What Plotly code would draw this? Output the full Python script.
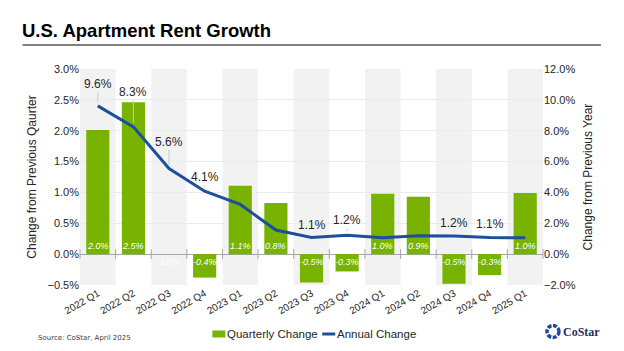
import plotly.graph_objects as go

# ---------------- data ----------------
categories = ["2022 Q1", "2022 Q2", "2022 Q3", "2022 Q4",
              "2023 Q1", "2023 Q2", "2023 Q3", "2023 Q4",
              "2024 Q1", "2024 Q2", "2024 Q3", "2024 Q4", "2025 Q1"]
quarterly_change = [2.01, 2.46, 0.0, -0.38, 1.11, 0.83, -0.46, -0.28,
                    0.98, 0.93, -0.48, -0.34, 0.99]
quarterly_labels = ["2.0%", "2.5%", "0.0%", "-0.4%", "1.1%", "0.8%", "-0.5%", "-0.3%",
                    "1.0%", "0.9%", "-0.5%", "-0.3%", "1.0%"]
annual_change = [9.61, 8.25, 5.55, 4.08, 3.22, 1.56, 1.08, 1.23,
                 1.07, 1.19, 1.17, 1.08, 1.06]
annual_labels = ["9.6%", "8.3%", "5.6%", "4.1%", "", "", "1.1%", "1.2%",
                 "", "", "1.2%", "1.1%", ""]
series_names = ["Quarterly Change", "Annual Change"]
# style: vertical offset (px) of each annual label from its point
annual_label_offsets = [-22, -35, -27, -14, 0, 0, -12, -15, 0, 0, -13, -13, 0]

# ---------------- styling ----------------
W, H = 624, 351
L, R, T, B = 79.5, 543, 69, 285
GREEN = "#77B300"
BLUE = "#1D4F9B"
BAND = "#F2F2F2"
TXT = "#262626"
FONT = "Liberation Sans, Arial, sans-serif"

def px_x(px):
    return (px - L) / (R - L)

def px_y(py):
    return (B - py) / (B - T)

x_idx = list(range(len(categories)))

fig = go.Figure()

fig.add_trace(go.Bar(
    x=x_idx, y=quarterly_change, name=series_names[0],
    marker=dict(color=GREEN, line=dict(width=0)), width=0.65,
    hoverinfo="skip", yaxis="y", showlegend=False,
))

fig.add_trace(go.Scatter(
    x=x_idx, y=annual_change, name=series_names[1], mode="lines",
    line=dict(color=BLUE, width=3), yaxis="y2", hoverinfo="skip", showlegend=False,
))

# boundary tick marks along the zero line
fig.add_trace(go.Scatter(
    x=[i - 0.5 for i in range(len(categories) + 1)],
    y=[0] * (len(categories) + 1), mode="markers", yaxis="y",
    marker=dict(symbol="line-ns-open", size=7, color="#A6A6A6",
                line=dict(color="#A6A6A6", width=1)),
    showlegend=False, hoverinfo="skip", cliponaxis=False,
))

shapes = []
for i in x_idx:
    if i % 2 == 0:
        shapes.append(dict(type="rect", xref="x", yref="paper", x0=i - 0.5, x1=i + 0.5,
                           y0=0, y1=1, fillcolor=BAND, line=dict(width=0), layer="below"))
# title underline
shapes.append(dict(type="line", xref="paper", yref="paper",
                   x0=px_x(22), x1=px_x(601), y0=px_y(45), y1=px_y(45),
                   line=dict(color="#808080", width=2)))
# logo ring
shapes.append(dict(type="circle", xref="paper", yref="paper",
                   x0=px_x(547), x1=px_x(559), y0=px_y(337.5), y1=px_y(325.5),
                   line=dict(color="#1F4A9A", width=3.5, dash="4px,1.5px")))
# legend keys
shapes.append(dict(type="rect", xref="paper", yref="paper",
                   x0=px_x(212), x1=px_x(225), y0=px_y(337.5), y1=px_y(330.5),
                   fillcolor=GREEN, line=dict(width=0)))
shapes.append(dict(type="line", xref="paper", yref="paper",
                   x0=px_x(322), x1=px_x(335), y0=px_y(334), y1=px_y(334),
                   line=dict(color=BLUE, width=3)))

annotations = []
for i, (v, lab) in enumerate(zip(quarterly_change, quarterly_labels)):
    annotations.append(dict(x=i, y=0, xref="x", yref="y", text="<i>" + lab + "</i>",
                            showarrow=False, yshift=8 if v > 0 else -8, yanchor="middle",
                            font=dict(family=FONT, size=9, color="white")))
for i, (v, lab, off) in enumerate(zip(annual_change, annual_labels, annual_label_offsets)):
    if lab:
        annotations.append(dict(x=i, y=v, xref="x", yref="y2", text=lab, showarrow=True,
                                arrowhead=0, arrowwidth=1, arrowcolor="#C8C8C8",
                                ax=0, ay=off, standoff=4,
                                font=dict(family=FONT, size=12, color=TXT)))
# legend texts
annotations.append(dict(x=px_x(225), y=px_y(333.5), xref="paper", yref="paper",
                        text=series_names[0], showarrow=False, xanchor="left", yanchor="middle",
                        font=dict(family=FONT, size=11.5, color=TXT)))
annotations.append(dict(x=px_x(335), y=px_y(333.5), xref="paper", yref="paper",
                        text=series_names[1], showarrow=False, xanchor="left", yanchor="middle",
                        font=dict(family=FONT, size=11.5, color=TXT)))
annotations.append(dict(x=px_x(35), y=px_y(338), xref="paper", yref="paper",
                        text="Source: CoStar, April 2025", showarrow=False,
                        xanchor="left", yanchor="middle",
                        font=dict(family="DejaVu Sans, sans-serif", size=7, color="#404040")))
annotations.append(dict(x=px_x(561), y=px_y(332), xref="paper", yref="paper",
                        text="<b>CoStar</b>", showarrow=False,
                        xanchor="left", yanchor="middle",
                        font=dict(family="Liberation Serif, serif", size=12, color="#1E2F5E")))

fig.update_layout(
    width=W, height=H,
    margin=dict(l=L, r=W - R, t=T, b=H - B, autoexpand=False),
    paper_bgcolor="white", plot_bgcolor="white",
    font=dict(family=FONT, color=TXT, size=11),
    title=dict(text="<b>U.S. Apartment Rent Growth</b>", x=22 / W, xanchor="left",
               xref="container", yref="container", y=1 - 31 / H, yanchor="middle",
               font=dict(family=FONT, size=18.5, color="#000000")),
    showlegend=False,
    bargap=0.35,
    xaxis=dict(range=[-0.5, len(categories) - 0.5], tickvals=x_idx, ticktext=categories,
               tickangle=-30, showgrid=False, zeroline=False, showline=False, ticks="",
               tickfont=dict(family=FONT, size=10, color=TXT)),
    yaxis=dict(range=[-0.5, 3.0], dtick=0.5, tick0=0, ticksuffix="%", tickformat=".1f",
               showgrid=True, gridcolor="#EBEBEB", gridwidth=1,
               zeroline=True, zerolinecolor="#A6A6A6", zerolinewidth=1,
               showline=False, ticks="",
               title=dict(text="Change from Previous Qaurter", standoff=8,
                          font=dict(family=FONT, size=12, color=TXT)),
               tickfont=dict(family=FONT, size=11, color=TXT)),
    yaxis2=dict(range=[-2.0, 12.0], dtick=2, tick0=0, ticksuffix="%", tickformat=".1f",
                overlaying="y", side="right", showgrid=False, zeroline=False,
                showline=False, ticks="",
                title=dict(text="Change from Previous Year", standoff=8,
                           font=dict(family=FONT, size=12, color=TXT)),
                tickfont=dict(family=FONT, size=11, color=TXT)),
    shapes=shapes,
    annotations=annotations,
)

fig.write_html("out.html")
